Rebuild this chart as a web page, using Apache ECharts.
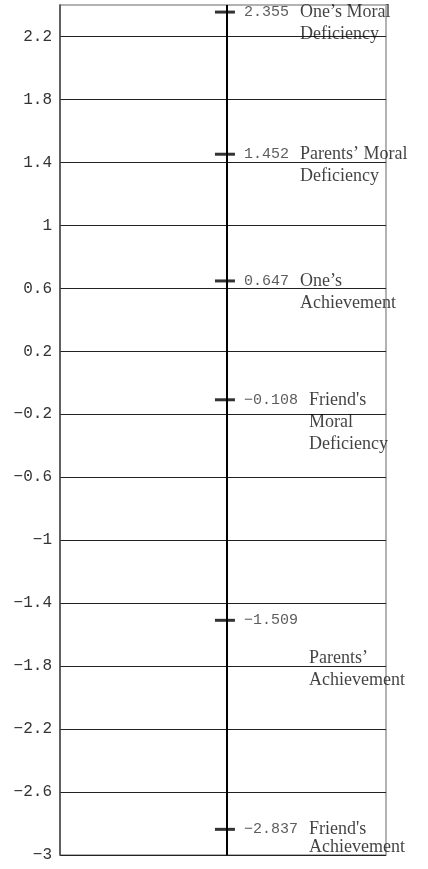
<!DOCTYPE html>
<html>
<head>
<meta charset="utf-8">
<script src="https://cdn.jsdelivr.net/npm/echarts@6/dist/echarts.min.js"></script>
<style>
  html, body { margin: 0; padding: 0; background: #fff; }
  #chart { width: 428px; height: 869px; }
</style>
</head>
<body>
<div id="chart"></div>
<script>
// Scale positions of each factor on a single vertical continuum
const names = [
  "One’s Moral\nDeficiency",
  "Parents’ Moral\nDeficiency",
  "One’s\nAchievement",
  "Friend's\nMoral\nDeficiency",
  "Parents’\nAchievement",
  "Friend's\nAchievement"
];
const values = [2.355, 1.452, 0.647, -0.108, -1.509, -2.837];
const yTicks = [-3, -2.6, -2.2, -1.8, -1.4, -1, -0.6, -0.2, 0.2, 0.6, 1, 1.4, 1.8, 2.2];
const yMin = -3;
const yMax = 2.4;

// Styling / layout constants
const MONO = "'Liberation Mono', 'DejaVu Sans Mono', monospace";
const SERIF = "'Liberation Serif', 'DejaVu Serif', serif";
const STEM_X = 0.506;
const MARK_W = 20, MARK_H = 3;
const NUM_SIZE = 15, NAME_SIZE = 18, NAME_LH = 22;
const NUM_DX = 29;
// per-label nudges for names that would otherwise collide
const nameNudge = { 4: { dy: 38 }, 5: { lh: 18 } };

const minus = s => s.replace('-', '\u2212');
const fmtVal = v => minus(v.toFixed(3));
const fmtTick = v => minus(String(+Number(v).toFixed(1)));

const markData = values.map(v => [STEM_X, v]);
const nameData = values.map((v, i) => {
  const nudge = nameNudge[i] || {};
  const lh = nudge.lh || NAME_LH;
  const dx = NUM_DX + (fmtVal(v).length + 1) * NUM_SIZE * 0.6 + 2;
  const dy = MARK_H / 2 - lh / 2 + (nudge.dy || 0);
  return {
    value: [STEM_X, v],
    label: { position: [dx, dy], lineHeight: lh }
  };
});

const chart = echarts.init(document.getElementById('chart'), null, { renderer: 'canvas' });
chart.setOption({
  animation: false,
  grid: {
    left: 60, right: 42, top: 5, bottom: 14,
    show: true, borderColor: '#999', borderWidth: 1.5, backgroundColor: 'transparent'
  },
  xAxis: { type: 'value', min: 0, max: 1, show: false },
  yAxis: {
    type: 'value', min: yMin, max: yMax,
    axisLine: { show: true, lineStyle: { color: '#444', width: 1.5 } },
    axisTick: { show: false, customValues: yTicks },
    axisLabel: {
      customValues: yTicks,
      formatter: fmtTick,
      fontFamily: MONO, fontSize: 16, color: '#333', margin: 8
    },
    splitLine: { show: true, lineStyle: { color: '#222', width: 1 } }
  },
  series: [
    {
      name: 'marks',
      type: 'scatter',
      symbol: 'rect',
      symbolSize: [MARK_W, MARK_H],
      itemStyle: { color: '#000' },
      data: markData,
      z: 5,
      label: {
        show: true,
        position: [NUM_DX, MARK_H / 2],
        align: 'left', verticalAlign: 'middle',
        fontFamily: MONO, fontSize: NUM_SIZE, color: '#333',
        formatter: p => fmtVal(p.value[1])
      },
      markLine: {
        silent: true,
        symbol: ['none', 'none'],
        label: { show: false },
        lineStyle: { color: '#000', width: 2, type: 'solid' },
        data: [{ xAxis: STEM_X }]
      }
    },
    {
      name: 'names',
      type: 'scatter',
      symbol: 'rect',
      symbolSize: [MARK_W, MARK_H],
      itemStyle: { color: 'rgba(0,0,0,0)' },
      data: nameData,
      z: 6,
      label: {
        show: true,
        align: 'left', verticalAlign: 'top',
        fontFamily: SERIF, fontSize: NAME_SIZE, color: '#111',
        formatter: p => names[p.dataIndex]
      }
    }
  ]
});
</script>
</body>
</html>
